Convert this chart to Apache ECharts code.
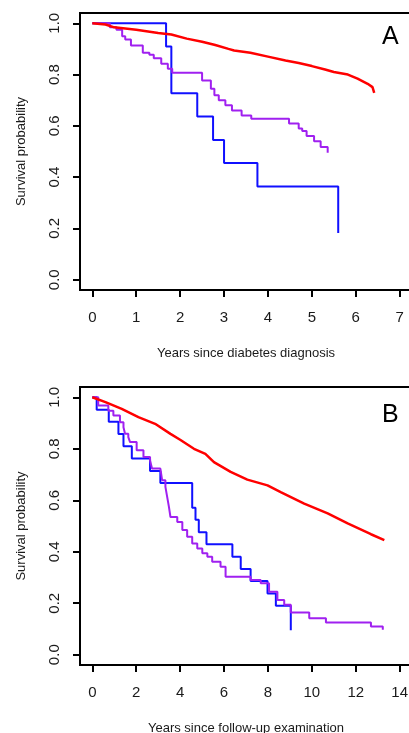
<!DOCTYPE html>
<html>
<head>
<meta charset="utf-8">
<script src="https://cdn.jsdelivr.net/npm/echarts@6/dist/echarts.min.js"></script>
<style>
html,body{margin:0;padding:0;background:#fff;}
#c{width:409px;height:733px;}
</style>
</head>
<body>
<div id="c"></div>
<script>
// ---- tick labels ----
var ticksXA = [0, 1, 2, 3, 4, 5, 6, 7];
var ticksXB = [0, 2, 4, 6, 8, 10, 12, 14];
var ticksY = [0, 0.2, 0.4, 0.6, 0.8, 1.0];

// ---- Panel A: years since diabetes diagnosis, [time, survival] ----
var aRed = [[0,1],[0.3,0.995],[0.5,0.984],[1.0,0.975],[1.5,0.962],[1.8,0.956],[2.15,0.94],[2.5,0.928],[2.8,0.915],[3.1,0.9],[3.23,0.894],[3.6,0.885],[4.0,0.87],[4.4,0.855],[4.7,0.845],[5.0,0.833],[5.3,0.82],[5.5,0.81],[5.82,0.80],[6.04,0.784],[6.27,0.764],[6.38,0.751],[6.42,0.729]];
var aPurple = [[0,1],[0.40,0.984],[0.55,0.975],[0.68,0.949],[0.75,0.937],[0.88,0.913],[1.15,0.885],[1.30,0.877],[1.40,0.864],[1.57,0.842],[1.72,0.823],[1.82,0.807],[2.50,0.777],[2.70,0.745],[2.78,0.719],[2.88,0.70],[3.03,0.68],[3.18,0.66],[3.40,0.64],[3.62,0.628],[4.48,0.609],[4.70,0.59],[4.78,0.58],[4.88,0.56],[5.05,0.54],[5.20,0.518],[5.36,0.495]];
var aBlue = [[0,1],[1.68,0.909],[1.80,0.727],[2.39,0.636],[2.75,0.545],[3.00,0.455],[3.76,0.364],[5.60,0.182]];

// ---- Panel B: years since follow-up examination, [time, survival] ----
var bRed = [[0,1],[0.6,0.981],[1.34,0.955],[2.1,0.923],[2.86,0.897],[3.56,0.858],[4.0,0.835],[4.63,0.80],[5.15,0.78],[5.54,0.748],[6.3,0.71],[7.06,0.68],[7.98,0.658],[8.58,0.632],[9.65,0.587],[10.72,0.549],[11.63,0.51],[12.69,0.468],[13.3,0.445]];
var bPurple = [[0,1],[0.27,0.968],[0.73,0.948],[0.96,0.929],[1.26,0.903],[1.42,0.884],[1.49,0.858],[1.64,0.845],[1.72,0.826],[2.02,0.794],[2.33,0.768],[2.63,0.755],[2.72,0.723],[3.1,0.716],[3.18,0.678],[3.33,0.652],[3.41,0.613],[3.49,0.574],[3.56,0.535],[3.87,0.516],[4.1,0.484],[4.32,0.458],[4.55,0.432],[4.78,0.413],[5.01,0.394],[5.24,0.381],[5.46,0.361],[5.84,0.342],[6.07,0.303],[7.21,0.29],[7.67,0.278],[8.05,0.245],[8.43,0.213],[8.74,0.194],[9.04,0.164],[9.88,0.142],[10.64,0.125],[12.69,0.11],[13.23,0.097]];
var bBlue = [[0,1],[0.2,0.952],[0.75,0.905],[1.19,0.857],[1.42,0.81],[1.8,0.762],[2.63,0.714],[3.1,0.667],[4.55,0.571],[4.70,0.524],[4.85,0.476],[5.2,0.429],[6.38,0.381],[6.76,0.333],[7.21,0.286],[7.98,0.238],[8.36,0.19],[9.04,0.095]];

var FONT = '"Liberation Sans", Arial, sans-serif';
var TXT = '#1a1a1a';
var RED = '#ff0000', BLUE = '#1010ff', PURPLE = '#a020f0';

function xAx(idx, ticks, maxT, name) {
  var pad = maxT * 0.04;
  return {
    type: 'value', gridIndex: idx, min: -pad, max: maxT + pad,
    name: name, nameLocation: 'middle', nameGap: 57,
    nameTextStyle: {fontFamily: FONT, fontSize: 13, color: TXT},
    axisLine: {show: false, onZero: false},
    axisTick: {show: true, inside: false, length: 7, customValues: ticks, lineStyle: {color: '#000', width: 2}},
    axisLabel: {customValues: ticks, margin: 20, fontFamily: FONT, fontSize: 15, color: TXT},
    splitLine: {show: false}
  };
}
function yAx(idx) {
  return {
    type: 'value', gridIndex: idx, min: -0.04, max: 1.04,
    name: 'Survival probability', nameLocation: 'middle', nameGap: 52,
    nameTextStyle: {fontFamily: FONT, fontSize: 13, color: TXT},
    axisLine: {show: false, onZero: false},
    axisTick: {show: true, inside: false, length: 7, customValues: ticksY, lineStyle: {color: '#000', width: 2}},
    axisLabel: {customValues: ticksY, rotate: 90, margin: 18, fontFamily: FONT, fontSize: 15, color: TXT,
      formatter: function (v) { return v.toFixed(1); }},
    splitLine: {show: false}
  };
}
function ser(idx, data, color, w) {
  return {type: 'line', xAxisIndex: idx, yAxisIndex: idx, data: data, step: 'end',
    showSymbol: false, symbol: 'none', lineStyle: {color: color, width: w}, silent: true, animation: false};
}
function serSmooth(idx, data, color, w) {
  return {type: 'line', xAxisIndex: idx, yAxisIndex: idx, data: data,
    showSymbol: false, symbol: 'none', lineStyle: {color: color, width: w}, silent: true, animation: false};
}

var chart = echarts.init(document.getElementById('c'), null, {renderer: 'canvas'});
chart.setOption({
  animation: false,
  backgroundColor: '#fff',
  grid: [
    {left: 80, top: 13, right: -3, height: 277, show: true, borderColor: '#000', borderWidth: 2, backgroundColor: 'transparent', containLabel: false, outerBoundsMode: 'none'},
    {left: 80, top: 387, right: -3, height: 278, show: true, borderColor: '#000', borderWidth: 2, backgroundColor: 'transparent', containLabel: false, outerBoundsMode: 'none'}
  ],
  xAxis: [xAx(0, ticksXA, 7, 'Years since diabetes diagnosis'), xAx(1, ticksXB, 14, 'Years since follow-up examination')],
  yAxis: [yAx(0), yAx(1)],
  graphic: [
    {type: 'text', left: 382, top: 25, style: {text: 'A', fontFamily: FONT, fontSize: 25, fill: '#000'}},
    {type: 'text', left: 382, top: 403, style: {text: 'B', fontFamily: FONT, fontSize: 25, fill: '#000'}}
  ],
  series: [
    ser(0, aBlue, BLUE, 2), ser(0, aPurple, PURPLE, 2), serSmooth(0, aRed, RED, 2.5),
    ser(1, bBlue, BLUE, 2), ser(1, bPurple, PURPLE, 2), serSmooth(1, bRed, RED, 2.5)
  ]
});
</script>
</body>
</html>
